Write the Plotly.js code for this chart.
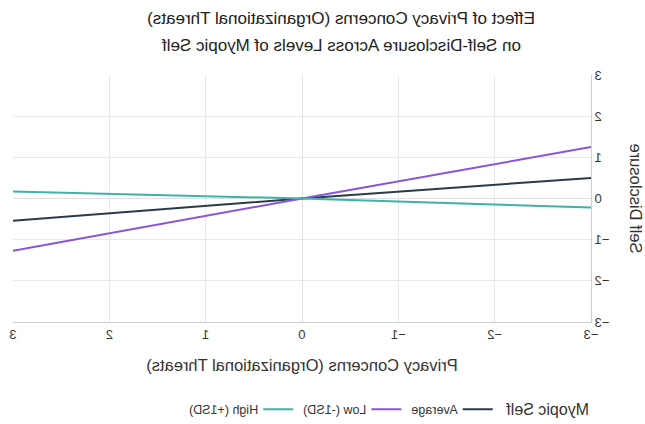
<!DOCTYPE html>
<html>
<head>
<meta charset="utf-8">
<script src="https://cdn.plot.ly/plotly-3.0.1.min.js"></script>
<style>
html,body{margin:0;padding:0;background:#fff;}
#chart{width:645px;height:424px;transform:scaleX(-1);}
</style>
</head>
<body>
<div id="chart"></div>
<script>
const xVals = [-3, 0, 3];
const seriesNames = ["Average", "Low (-1SD)", "High (+1SD)"];
const averageY = [0.50, 0, -0.54];
const lowY = [1.25, 0, -1.27];
const highY = [-0.22, 0, 0.17];
const colors = ["#2d3a48", "#8a55d6", "#3fb2a8"];
const xTicks = [-3, -2, -1, 0, 1, 2, 3];
const yTicks = [-3, -2, -1, 0, 1, 2, 3];
const titleLines = ["Effect of Privacy Concerns (Organizational Threats)", "on Self-Disclosure Across Levels of Myopic Self"];

const ys = [averageY, lowY, highY];
const traces = ys.map((y, i) => ({
  x: xVals, y: y, type: 'scatter', mode: 'lines', name: seriesNames[i],
  line: {color: colors[i], width: 2}
}));

const layout = {
  width: 645, height: 424,
  font: {family: 'Liberation Sans, Arial, sans-serif', color: '#333', size: 13},
  paper_bgcolor: '#fff', plot_bgcolor: '#fff',
  margin: {l: 54, r: 13, t: 75, b: 102, autoexpand: false},
  title: {text: titleLines[0], xref: 'paper', x: 0.4325, xanchor: 'center', yref: 'container', y: 0.9575, yanchor: 'middle',
          font: {size: 17, color: '#222'}},
  annotations: [{text: titleLines[1], xref: 'paper', yref: 'paper', x: 0.4325, y: 1.121, xanchor: 'center', yanchor: 'middle',
                 showarrow: false, font: {size: 17, color: '#222'}}],
  xaxis: {range: [-3, 3], tickvals: xTicks, showgrid: true, gridcolor: '#e8e8e8', zeroline: true, zerolinecolor: '#e0e0e0',
          showline: true, linecolor: '#cfcfcf', ticks: '', tickfont: {size: 13},
          title: {text: 'Privacy Concerns (Organizational Threats)', font: {size: 16.5}, standoff: 18}},
  yaxis: {range: [-3, 3], tickvals: yTicks, showgrid: true, gridcolor: '#e8e8e8', zeroline: true, zerolinecolor: '#e0e0e0',
          showline: true, linecolor: '#cfcfcf', ticks: '', tickfont: {size: 13},
          title: {text: 'Self Disclosure', font: {size: 16.5}}},
  legend: {orientation: 'h', x: 0, xanchor: 'left', yref: 'container', y: 0.033, yanchor: 'middle',
           title: {text: 'Myopic Self', font: {size: 16}}, font: {size: 12.5}},
  showlegend: true
};
Plotly.newPlot('chart', traces, layout, {displayModeBar: false, staticPlot: true});
</script>
</body>
</html>
